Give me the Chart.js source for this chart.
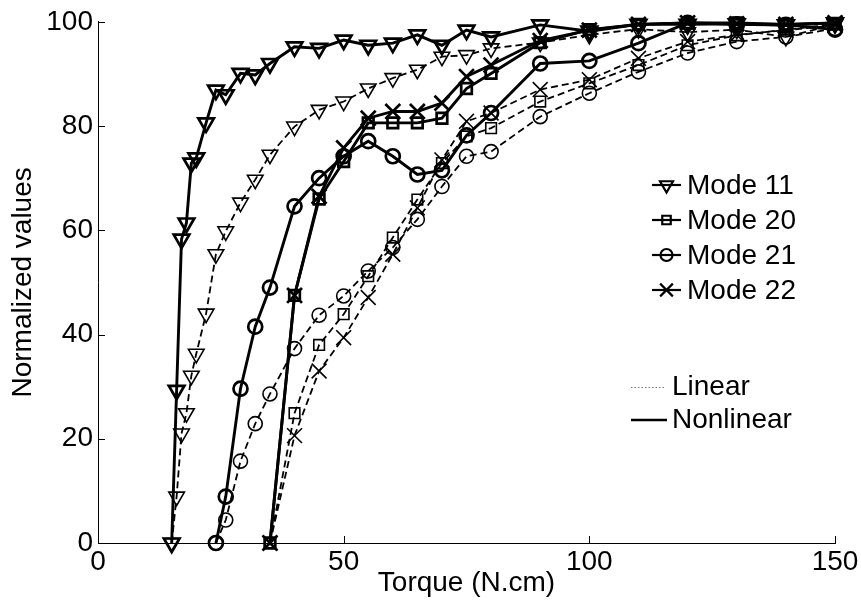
<!DOCTYPE html>
<html><head><meta charset="utf-8">
<script src="https://cdn.jsdelivr.net/npm/chart.js@4.4.1/dist/chart.umd.min.js"></script>
<style>html,body{margin:0;padding:0;background:#fff;}canvas{display:block;}</style>
</head><body>
<canvas id="c" width="861" height="608"></canvas>
<script>
const FONT = '"Liberation Sans", Arial, sans-serif';
const xTickValues = [0, 50, 100, 150];
const yTickValues = [0, 20, 40, 60, 80, 100];
const xTitle = 'Torque (N.cm)';
const yTitle = 'Normalized values';

const torque11 = [15,16,17,18,19,20,22,24,26,29,32,35,40,45,50,55,60,65,70,75,80,90,100,110,120,130,140,150];
const mode11Nonlinear = [0,29.3,58.3,61.4,72.9,73.9,80.6,86.9,86,90.1,89.8,92,95.2,94.9,96.5,95.5,95.9,97.5,95.5,98.4,97.1,99.4,98.2,99.5,99.5,99.6,99.4,99.8];
const mode11Linear = [0,8.9,21,24.9,32.1,36.3,44,55.4,59.8,65.3,69.7,74.5,79.9,83.1,84.7,87.2,89.2,90.8,93.3,93.6,94.9,96,97.5,98.6,98,98.5,97.1,99.5];

const torque21 = [24,26,29,32,35,40,45,50,55,60,65,70,75,80,90,100,110,120,130,140,150];
const mode21Nonlinear = [0,8.9,29.6,41.5,49,64.6,70,74.2,77.1,74.2,70.7,71.5,78.2,82.5,92,92.5,95.9,99.8,99.5,99.4,98.5];
const mode21Linear = [0,4.4,15.7,22.9,28.6,37.3,43.7,47.4,52.2,56.7,62.1,68.4,74.2,75.1,81.8,86.3,90.4,94,96.2,97.1,98.7];

const torque2x = [35,40,45,50,55,60,65,70,75,80,90,100,110,120,130,140,150];
const mode20Nonlinear = [0,47.5,66,73.2,80.6,80.6,80.6,81.5,87.2,90.1,96,98.5,99.5,99.8,99.8,99.5,99.7];
const mode20Linear = [0,24.9,38,43.9,51.2,58.6,65.9,72.9,78,79.6,84.7,88.2,91.7,95.5,97.4,98.5,99.5];
const mode22Nonlinear = [0,47.5,66.5,75.8,81.5,82.8,82.8,84.4,89.5,91.7,96.4,98.4,99.5,99.8,99.6,99.5,99.8];
const mode22Linear = [0,20.6,33,39.4,47.1,55.4,64.3,73.5,80.9,82.5,87,88.9,93,96.2,97.5,98.4,99.3];

const modeNames = ['Mode 11', 'Mode 20', 'Mode 21', 'Mode 22'];
const typeNames = ['Linear', 'Nonlinear'];

function xy(xs, ys) { return xs.map((x, i) => ({ x: x, y: ys[i] })); }

const markers = {
  'Mode 11': { pointStyle: 'triangle', rotation: 180, radius: 9 },
  'Mode 20': { pointStyle: 'rect', rotation: 0, radius: 7.5 },
  'Mode 21': { pointStyle: 'circle', rotation: 0, radius: 7 },
  'Mode 22': { pointStyle: 'crossRot', rotation: 0, radius: 10.5 }
};

function ds(label, mode, xs, ys, linear) {
  const m = markers[mode];
  return {
    label: label,
    data: xy(xs, ys),
    showLine: true,
    borderColor: '#000',
    backgroundColor: 'rgba(0,0,0,0)',
    borderWidth: linear ? 1.8 : 2.9,
    borderDash: linear ? [7, 4] : [],
    pointStyle: m.pointStyle,
    pointRotation: m.rotation,
    pointRadius: m.radius,
    pointHoverRadius: m.radius,
    pointBorderWidth: linear ? 1.6 : 2.7,
    pointBorderColor: '#000',
    pointBackgroundColor: 'rgba(0,0,0,0)',
    tension: 0,
    clip: false,
    order: linear ? 2 : 1
  };
}

const datasets = [
  ds('Mode 11 Linear', 'Mode 11', torque11, mode11Linear, true),
  ds('Mode 20 Linear', 'Mode 20', torque2x, mode20Linear, true),
  ds('Mode 21 Linear', 'Mode 21', torque21, mode21Linear, true),
  ds('Mode 22 Linear', 'Mode 22', torque2x, mode22Linear, true),
  ds('Mode 11 Nonlinear', 'Mode 11', torque11, mode11Nonlinear, false),
  ds('Mode 20 Nonlinear', 'Mode 20', torque2x, mode20Nonlinear, false),
  ds('Mode 21 Nonlinear', 'Mode 21', torque21, mode21Nonlinear, false),
  ds('Mode 22 Nonlinear', 'Mode 22', torque2x, mode22Nonlinear, false)
];

function drawMarker(ctx, style, x, y, r, rot) {
  ctx.beginPath();
  if (style === 'triangle') {
    let a = rot * Math.PI / 180;
    ctx.moveTo(x + Math.sin(a) * r, y - Math.cos(a) * r);
    a += 2 * Math.PI / 3;
    ctx.lineTo(x + Math.sin(a) * r, y - Math.cos(a) * r);
    a += 2 * Math.PI / 3;
    ctx.lineTo(x + Math.sin(a) * r, y - Math.cos(a) * r);
    ctx.closePath();
  } else if (style === 'rect') {
    const s = Math.SQRT1_2 * r;
    ctx.rect(x - s, y - s, 2 * s, 2 * s);
  } else if (style === 'circle') {
    ctx.arc(x, y, r, 0, Math.PI * 2);
  } else if (style === 'crossRot') {
    const s = Math.SQRT1_2 * r;
    ctx.moveTo(x - s, y - s); ctx.lineTo(x + s, y + s);
    ctx.moveTo(x - s, y + s); ctx.lineTo(x + s, y - s);
  }
  ctx.stroke();
}

const innerTicks = {
  id: 'innerTicks',
  afterDraw(chart) {
    const ctx = chart.ctx, xs = chart.scales.x, ys = chart.scales.y;
    const a = chart.chartArea;
    ctx.save();
    ctx.strokeStyle = '#000';
    ctx.lineWidth = 1;
    xTickValues.forEach(v => {
      const px = Math.round(xs.getPixelForValue(v)) + 0.5;
      ctx.beginPath(); ctx.moveTo(px, a.bottom); ctx.lineTo(px, a.bottom - 7); ctx.stroke();
    });
    yTickValues.forEach(v => {
      const py = Math.round(ys.getPixelForValue(v)) + 0.5;
      ctx.beginPath(); ctx.moveTo(a.left, py); ctx.lineTo(a.left + 7, py); ctx.stroke();
    });
    ctx.restore();
  }
};

const customLegend = {
  id: 'customLegend',
  afterDraw(chart) {
    const ctx = chart.ctx;
    ctx.save();
    ctx.font = '28px ' + FONT;
    ctx.fillStyle = '#000';
    ctx.textBaseline = 'middle';
    ctx.textAlign = 'left';
    const rows = [185, 220, 255, 290];
    modeNames.forEach((name, i) => {
      const y = rows[i];
      const m = markers[name];
      ctx.strokeStyle = '#000';
      ctx.setLineDash([]);
      ctx.lineWidth = 2.2;
      ctx.beginPath(); ctx.moveTo(652, y); ctx.lineTo(681, y); ctx.stroke();
      ctx.lineWidth = 2.2;
      drawMarker(ctx, m.pointStyle, 666.5, y, m.pointStyle === 'triangle' ? 7.5 : (m.pointStyle === 'crossRot' ? 9 : 6), m.rotation);
      ctx.fillText(name, 687, y + 1);
    });
    ctx.strokeStyle = '#777';
    ctx.lineWidth = 1;
    ctx.setLineDash([1.5, 2]);
    ctx.beginPath(); ctx.moveTo(631, 387.5); ctx.lineTo(664, 387.5); ctx.stroke();
    ctx.setLineDash([]);
    ctx.fillText(typeNames[0], 672, 387);
    ctx.strokeStyle = '#000';
    ctx.lineWidth = 2.6;
    ctx.beginPath(); ctx.moveTo(631, 420); ctx.lineTo(667, 420); ctx.stroke();
    ctx.fillText(typeNames[1], 672, 420);
    ctx.restore();
  }
};

new Chart(document.getElementById('c'), {
  type: 'scatter',
  data: { datasets: datasets },
  plugins: [innerTicks, customLegend],
  options: {
    responsive: false,
    animation: false,
    events: [],
    layout: { padding: { left: 0, right: 26, top: 20, bottom: 0 } },
    plugins: { legend: { display: false }, tooltip: { enabled: false } },
    scales: {
      x: {
        type: 'linear', min: 0, max: 150,
        afterBuildTicks: s => { s.ticks = xTickValues.map(v => ({ value: v })); },
        afterFit: s => { s.height = 65; },
        grid: { display: false, drawTicks: false },
        border: { display: true, color: '#000', width: 1 },
        ticks: { color: '#000', font: { family: FONT, size: 28 }, padding: 2, maxRotation: 0, autoSkip: false },
        title: { display: true, text: xTitle, color: '#000', font: { family: FONT, size: 28 }, padding: { top: 0, bottom: 8 } }
      },
      y: {
        type: 'linear', min: 0, max: 100,
        afterBuildTicks: s => { s.ticks = yTickValues.map(v => ({ value: v })); },
        afterFit: s => { s.width = 98; },
        grid: { display: false, drawTicks: false },
        border: { display: true, color: '#000', width: 1 },
        ticks: { color: '#000', font: { family: FONT, size: 28 }, padding: 5, autoSkip: false },
        title: { display: true, text: yTitle, color: '#000', font: { family: FONT, size: 28 }, padding: { top: 6, bottom: 0 } }
      }
    }
  }
});
</script>
</body></html>
